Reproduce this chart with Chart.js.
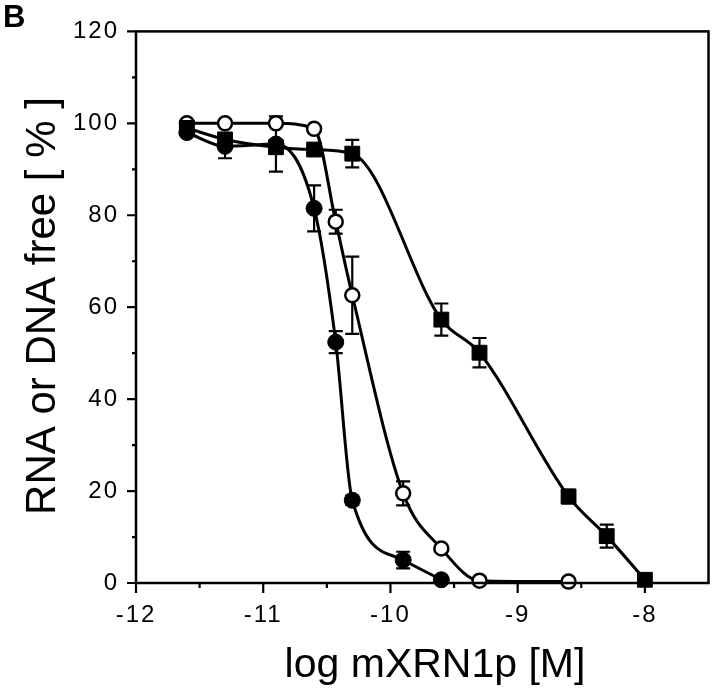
<!DOCTYPE html>
<html>
<head>
<meta charset="utf-8">
<script src="https://cdn.jsdelivr.net/npm/chart.js@4.4.1/dist/chart.umd.min.js"></script>
<style>
  html, body { margin: 0; padding: 0; background: #fff; }
  #wrap { width: 720px; height: 692px; position: relative; }
</style>
</head>
<body>
<div id="wrap"><canvas id="chart"></canvas></div>
<script>
// filled circles
const filledX = [-11.6, -11.3, -10.9, -10.6, -10.43, -10.3, -9.9, -9.6];
const filledY = [98, 95, 95.5, 81.5, 52.4, 18, 5, 0.7];
const filledErr = [0, 2.6, 6, 5, 2.4, 1, 1.8, 0];

// open circles
const openX = [-11.6, -11.3, -10.9, -10.6, -10.43, -10.3, -9.9, -9.6, -9.3, -8.6];
const openY = [100, 100, 100, 98.8, 78.6, 62.6, 19.5, 7.5, 0.5, 0.3];
const openErr = [0, 0, 0, 0, 2.6, 8.4, 2.6, 0, 0, 0];

// filled squares
const squareX = [-11.6, -11.3, -10.9, -10.6, -10.3, -9.6, -9.3, -8.6, -8.3, -8];
const squareY = [99, 96.5, 94.8, 94.3, 93.4, 57.3, 50.1, 18.8, 10.2, 0.7];
const squareErr = [0, 0, 0, 0, 3, 3.5, 3.2, 1.5, 2.5, 0];

const xMajor = [-12, -11, -10, -9, -8];
const xMinor = [-11.5, -10.5, -9.5, -8.5];
const yMajor = [0, 20, 40, 60, 80, 100, 120];
const yMinor = [10, 30, 50, 70, 90, 110];

const FONT = "'Liberation Sans', Arial, Helvetica, sans-serif";

const pts = (xs, ys) => xs.map((x, i) => ({ x: x, y: ys[i] }));

const errorBars = {
  id: 'errorBars',
  beforeDatasetsDraw(chart) {
    const ctx = chart.ctx, ys = chart.scales.y;
    ctx.save();
    ctx.strokeStyle = '#000';
    ctx.lineWidth = 2.2;
    chart.data.datasets.forEach((ds, di) => {
      const meta = chart.getDatasetMeta(di);
      ds.errors.forEach((e, i) => {
        if (!e) return;
        const p = meta.data[i];
        const v = ds.data[i].y;
        const top = ys.getPixelForValue(v + e), bot = ys.getPixelForValue(v - e);
        ctx.beginPath();
        ctx.moveTo(p.x, top); ctx.lineTo(p.x, bot);
        ctx.moveTo(p.x - 7, top); ctx.lineTo(p.x + 7, top);
        ctx.moveTo(p.x - 7, bot); ctx.lineTo(p.x + 7, bot);
        ctx.stroke();
      });
    });
    ctx.restore();
  }
};

// wider tracking on the tick labels, like the original typesetting
const tracking = {
  id: 'tracking',
  beforeDraw(chart) { chart.ctx.letterSpacing = '2px'; },
  beforeDatasetsDraw(chart) { chart.ctx.letterSpacing = '0px'; }
};

const frame = {
  id: 'frame',
  afterDraw(chart) {
    const ctx = chart.ctx, a = chart.chartArea;
    const xs = chart.scales.x, ys = chart.scales.y;
    ctx.save();
    ctx.letterSpacing = '0px';
    ctx.strokeStyle = '#000';
    ctx.lineWidth = 2.5;
    ctx.strokeRect(a.left, a.top, a.right - a.left, a.bottom - a.top);
    ctx.lineWidth = 2.2;
    ctx.beginPath();
    xMajor.forEach(v => { const x = xs.getPixelForValue(v); ctx.moveTo(x, a.bottom); ctx.lineTo(x, a.bottom + 10); });
    xMinor.forEach(v => { const x = xs.getPixelForValue(v); ctx.moveTo(x, a.bottom); ctx.lineTo(x, a.bottom + 5); });
    yMajor.forEach(v => { const y = ys.getPixelForValue(v); ctx.moveTo(a.left, y); ctx.lineTo(a.left - 9, y); });
    yMinor.forEach(v => { const y = ys.getPixelForValue(v); ctx.moveTo(a.left, y); ctx.lineTo(a.left - 4, y); });
    ctx.stroke();

    ctx.fillStyle = '#000';
    ctx.font = '41px ' + FONT;
    ctx.textAlign = 'center';
    ctx.textBaseline = 'alphabetic';
    ctx.fillText('log mXRN1p [M]', 435, 677);

    ctx.save();
    ctx.translate(55, 306);
    ctx.rotate(-Math.PI / 2);
    ctx.font = '42px ' + FONT;
    ctx.fillText('RNA or DNA free [ % ]', 0, 0);
    ctx.restore();

    ctx.font = 'bold 31px ' + FONT;
    ctx.textAlign = 'left';
    ctx.fillText('B', 3, 27);
    ctx.restore();
  }
};

const common = { showLine: true, borderColor: '#000', borderWidth: 3, cubicInterpolationMode: 'monotone', clip: false };

new Chart(document.getElementById('chart'), {
  type: 'scatter',
  data: {
    datasets: [
      { ...common, label: 'filled', data: pts(filledX, filledY), errors: filledErr,
        pointStyle: 'circle', pointRadius: 8, pointBackgroundColor: '#000', pointBorderColor: '#000', pointBorderWidth: 1 },
      { ...common, label: 'square', data: pts(squareX, squareY), errors: squareErr,
        pointStyle: 'rect', pointRadius: 10.5, pointBackgroundColor: '#000', pointBorderColor: '#000', pointBorderWidth: 1 },
      { ...common, label: 'open', data: pts(openX, openY), errors: openErr,
        pointStyle: 'circle', pointRadius: 7, pointBackgroundColor: '#fff', pointBorderColor: '#000', pointBorderWidth: 2.5 }
    ]
  },
  options: {
    responsive: true,
    maintainAspectRatio: false,
    animation: false,
    devicePixelRatio: 1,
    layout: { padding: { top: 25, right: 6, left: 0, bottom: 0 } },
    plugins: { legend: { display: false }, tooltip: { enabled: false } },
    scales: {
      x: {
        type: 'linear', min: -12, max: -7.5,
        grid: { display: false, drawTicks: false },
        border: { display: false },
        afterFit(s) { s.height = 109; },
        ticks: { stepSize: 1, includeBounds: false, padding: 18, color: '#000', maxRotation: 0,
          font: { family: FONT, size: 24 }, callback: v => String(v) }
      },
      y: {
        min: 0, max: 120,
        grid: { display: false, drawTicks: false },
        border: { display: false },
        afterFit(s) { s.width = 136; },
        ticks: { stepSize: 20, padding: 17, color: '#000', font: { family: FONT, size: 24 }, callback: v => String(v) }
      }
    }
  },
  plugins: [tracking, errorBars, frame]
});
</script>
</body>
</html>
